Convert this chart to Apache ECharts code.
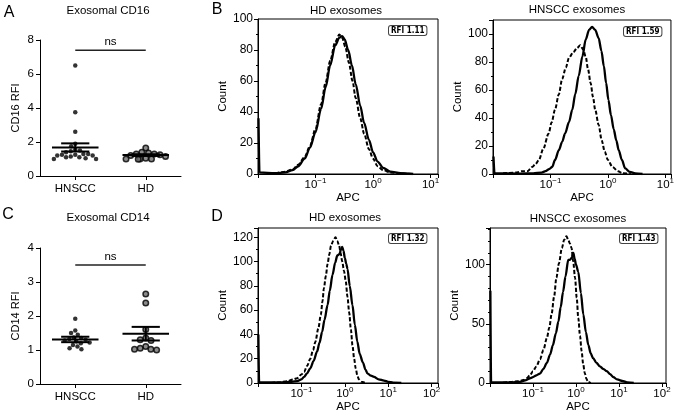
<!DOCTYPE html>
<html><head><meta charset="utf-8">
<script src="https://cdn.jsdelivr.net/npm/echarts@6/dist/echarts.min.js"></script>
<style>html,body{margin:0;padding:0;background:#fff}#c{width:677px;height:418px}</style>
</head><body><div id="c"></div>
<script>
// ---------- data ----------
const groupCategories = ['HNSCC', 'HD'];

// Panel A: Exosomal CD16 RFI
const cd16HNSCC = [6.5, 3.75, 2.6, 1.9, 1.75, 1.55, 1.5, 1.45, 1.4, 1.3, 1.3, 1.25, 1.25, 1.2, 1.2, 1.15, 1.1, 1.1, 1.05, 1.0, 1.0];
const cd16HD = [1.65, 1.4, 1.35, 1.3, 1.3, 1.25, 1.2, 1.15, 1.05, 1.0, 1.0, 1.0, 0.98];
const cd16Mean = [1.68, 1.23];
const cd16Sem = [0.24, 0.05];
const cd16NsLevel = [7.4];

// Panel C: Exosomal CD14 RFI
const cd14HNSCC = [1.92, 1.57, 1.5, 1.45, 1.37, 1.35, 1.32, 1.3, 1.28, 1.25, 1.22, 1.2, 1.15, 1.1, 1.05, 1.02];
const cd14HD = [2.65, 2.38, 1.6, 1.35, 1.3, 1.28, 1.1, 1.05, 1.02, 1.0, 1.02];
const cd14Mean = [1.31, 1.48];
const cd14Sem = [0.08, 0.2];
const cd14NsLevel = [3.5];

// Panel B: CD16 histograms, [APC, Count]
const bHdSolid = [[0.0102, 36], [0.0106, 1], [0.02, 0.5], [0.03, 1], [0.04, 2.5], [0.05, 5], [0.065, 10], [0.08, 17], [0.1, 27], [0.125, 42], [0.15, 56], [0.18, 70], [0.22, 83], [0.26, 88], [0.29, 89], [0.32, 87], [0.37, 80], [0.43, 70], [0.5, 58], [0.6, 44], [0.7, 33], [0.85, 22], [1.0, 14], [1.2, 8], [1.5, 4], [2.0, 1.5], [3, 0.5], [5, 0]];
const bHdDashed = [[0.02, 0.5], [0.03, 1.5], [0.04, 3], [0.05, 6], [0.065, 11], [0.08, 18], [0.1, 29], [0.125, 45], [0.15, 59], [0.18, 73], [0.22, 85], [0.26, 90], [0.29, 88], [0.33, 82], [0.38, 72], [0.44, 60], [0.5, 49], [0.6, 36], [0.7, 26], [0.85, 16], [1.0, 10], [1.2, 5], [1.5, 2.5], [2.0, 1], [3, 0.3], [5, 0]];
const bHnsccSolid = [[0.0102, 12.5], [0.0106, 0.5], [0.03, 0.3], [0.05, 0.5], [0.07, 1], [0.082, 2], [0.095, 3.5], [0.107, 5], [0.12, 10], [0.14, 17], [0.16, 23], [0.18, 29], [0.21, 37], [0.24, 46], [0.27, 57], [0.31, 70], [0.36, 84], [0.41, 96], [0.47, 103], [0.53, 105], [0.6, 103], [0.69, 97], [0.77, 88], [0.85, 77], [0.93, 65], [1.02, 53], [1.13, 42], [1.26, 32], [1.4, 24], [1.54, 17], [1.75, 10], [2.0, 4], [2.4, 1.5], [3.0, 0.5], [4, 0]];
const bHnsccDashed = [[0.015, 0.5], [0.025, 1], [0.032, 2], [0.04, 2], [0.048, 5], [0.055, 7], [0.063, 10], [0.075, 18], [0.093, 29], [0.105, 37], [0.12, 46], [0.14, 57], [0.16, 68], [0.185, 76], [0.21, 83], [0.25, 87], [0.29, 90], [0.33, 92], [0.37, 89], [0.41, 84], [0.45, 75], [0.5, 65], [0.55, 55], [0.6, 46], [0.69, 35], [0.78, 24], [0.88, 16], [1.0, 10], [1.2, 5], [1.5, 2], [1.8, 0.5], [2.5, 0]];

// Panel D: CD14 histograms, [APC, Count]
const dHdSolid = [[0.0102, 40], [0.0106, 0.5], [0.03, 0.5], [0.06, 1], [0.08, 1.5], [0.1, 3], [0.115, 5], [0.135, 8], [0.16, 12], [0.19, 18], [0.23, 26], [0.26, 33], [0.3, 42], [0.34, 52], [0.4, 64], [0.45, 76], [0.52, 89], [0.6, 99], [0.67, 105], [0.75, 106], [0.82, 110], [0.87, 112], [0.93, 109], [1.0, 103], [1.08, 98], [1.15, 94], [1.3, 80], [1.5, 64], [1.7, 48], [1.94, 34], [2.2, 24], [2.6, 17], [3.0, 11], [3.3, 8], [4.0, 6], [4.7, 5], [6, 3], [8, 2], [10, 1], [13, 0.3], [20, 0]];
const dHdDashed = [[0.02, 0], [0.03, 0.5], [0.048, 1.5], [0.065, 3], [0.08, 4], [0.1, 7], [0.115, 9], [0.135, 14], [0.16, 20], [0.185, 27], [0.21, 34], [0.245, 45], [0.28, 56], [0.305, 67], [0.33, 78], [0.365, 88], [0.4, 98], [0.44, 106], [0.48, 113], [0.54, 117], [0.61, 120], [0.67, 117], [0.74, 113], [0.8, 107], [0.87, 100], [0.96, 92], [1.05, 84], [1.15, 71], [1.26, 58], [1.38, 44], [1.5, 31], [1.64, 20], [1.78, 12], [1.95, 6], [2.1, 3], [2.4, 1], [3, 0]];
const dHnsccSolid = [[0.0102, 78], [0.0106, 0.5], [0.03, 0.5], [0.05, 1], [0.07, 2.5], [0.085, 4], [0.1, 5], [0.12, 6.5], [0.145, 8], [0.175, 12], [0.21, 17], [0.25, 24], [0.29, 32], [0.34, 42], [0.39, 52], [0.44, 64], [0.5, 77], [0.57, 90], [0.66, 104], [0.72, 104], [0.8, 106], [0.87, 110], [0.93, 105], [1.0, 100], [1.13, 94], [1.3, 76], [1.48, 58], [1.7, 43], [1.94, 32], [2.2, 25], [2.5, 21], [3.0, 17], [3.6, 14], [4.3, 12], [5.2, 10], [6.2, 7.5], [7.4, 5], [9, 3], [12.6, 1.5], [16, 0.5], [22, 0]];
const dHnsccDashed = [[0.02, 0.3], [0.03, 0.8], [0.045, 1.5], [0.06, 2.5], [0.071, 4], [0.085, 6.5], [0.1, 10], [0.12, 14], [0.145, 20], [0.175, 28], [0.21, 38], [0.24, 47], [0.27, 58], [0.31, 73], [0.35, 89], [0.4, 101], [0.47, 114], [0.53, 121], [0.6, 124], [0.66, 121], [0.72, 118], [0.79, 114], [0.86, 103], [0.95, 89], [1.04, 72], [1.13, 55], [1.24, 40], [1.35, 27], [1.47, 16], [1.6, 8.5], [1.75, 3.5], [1.9, 1], [2.2, 0]];

const panelTitles = ['Exosomal CD16', 'Exosomal CD14', 'HD exosomes', 'HNSCC exosomes', 'HD exosomes', 'HNSCC exosomes'];
const panelLetters = ['A', 'B', 'C', 'D'];
const rfiLabels = ['RFI 1.11', 'RFI 1.59', 'RFI 1.32', 'RFI 1.43'];

// ---------- styling / helpers ----------
const FONT = '"Liberation Sans", Arial, Helvetica, sans-serif';
const INK = '#000';
const axisLineStyle = { show: true, onZero: false, lineStyle: { color: '#000', width: 1 } };

function logLabel(v) {
  const e = Math.log10(v);
  const r = Math.round(e);
  if (Math.abs(e - r) > 1e-6 || r < -1) return '';
  return '{b|10}{s|' + (r < 0 ? '\u2212' + (-r) : r) + '}';
}

function catX(gi) {
  return {
    type: 'category', gridIndex: gi, data: groupCategories, boundaryGap: true,
    axisLine: axisLineStyle,
    axisTick: { show: true, alignWithLabel: true, length: 4, lineStyle: { color: '#000' } },
    axisLabel: { fontSize: 11.5, margin: 7, color: INK, fontFamily: FONT },
    splitLine: { show: false },
    jitter: 46, jitterOverlap: false, jitterMargin: 0.3
  };
}
function rfiY(gi, max, interval, name) {
  return {
    type: 'value', gridIndex: gi, min: 0, max: max, interval: interval,
    name: name, nameLocation: 'middle', nameGap: 19,
    nameTextStyle: { fontSize: 11, color: INK, fontFamily: FONT },
    axisLine: axisLineStyle,
    axisTick: { show: true, length: 4, lineStyle: { color: '#000' } },
    axisLabel: { fontSize: 11.5, margin: 6, color: INK, fontFamily: FONT },
    splitLine: { show: false }
  };
}
function logX(gi, max, nameGap) {
  return {
    type: 'log', logBase: 10, gridIndex: gi, min: 0.01, max: max,
    name: 'APC', nameLocation: 'middle', nameGap: nameGap,
    nameTextStyle: { fontSize: 11.5, color: INK, fontFamily: FONT },
    axisLine: axisLineStyle,
    axisTick: { show: true, length: 4, lineStyle: { color: '#000' } },
    splitLine: { show: false },
    axisLabel: {
      margin: 3, color: INK, formatter: logLabel,
      rich: {
        b: { fontSize: 11.5, lineHeight: 14, verticalAlign: 'bottom', fontFamily: FONT, color: INK },
        s: { fontSize: 8, lineHeight: 14, verticalAlign: 'top', fontFamily: FONT, color: INK }
      }
    }
  };
}
function countY(gi, max, interval, minorSplit, nameGap) {
  return {
    type: 'value', gridIndex: gi, min: 0, max: max, interval: interval,
    name: 'Count', nameLocation: 'middle', nameGap: nameGap,
    nameTextStyle: { fontSize: 11.5, color: INK, fontFamily: FONT },
    axisLine: axisLineStyle,
    axisTick: { show: true, length: 4, lineStyle: { color: '#000' } },
    minorTick: { show: true, splitNumber: minorSplit, length: 2, lineStyle: { color: '#000' } },
    splitLine: { show: false }, minorSplitLine: { show: false },
    axisLabel: { fontSize: 12, margin: 5, color: INK, fontFamily: FONT,
      formatter: v => (Math.abs(v / interval - Math.round(v / interval)) < 1e-9 ? String(v) : '') }
  };
}
function dots(ai, values, cat, filled) {
  return {
    type: 'scatter', xAxisIndex: ai, yAxisIndex: ai,
    data: values.map(v => [cat, v]),
    symbol: 'circle', symbolSize: filled ? 4.5 : 5.5,
    itemStyle: filled ? { color: '#000' } : { color: '#6e6e6e', borderColor: '#000', borderWidth: 1.5 },
    z: 3, silent: true
  };
}
function meanSem(ai, mean, sem) {
  return {
    type: 'custom', xAxisIndex: ai, yAxisIndex: ai, z: 5, silent: true,
    encode: { x: 0, y: 1 },
    data: mean.map((m, i) => [i, m, sem[i]]),
    renderItem: (params, api) => {
      const cat = api.value(0), m = api.value(1), s = api.value(2);
      const c = api.coord([cat, m]), t = api.coord([cat, m + s]), b = api.coord([cat, m - s]);
      const bw = api.size([1, 0])[0];
      const mh = bw * 0.33, ch = bw * 0.2;
      const st = { stroke: '#000', lineWidth: 2 };
      return { type: 'group', children: [
        { type: 'line', shape: { x1: c[0] - mh, y1: c[1], x2: c[0] + mh, y2: c[1] }, style: st },
        { type: 'line', shape: { x1: c[0] - ch, y1: t[1], x2: c[0] + ch, y2: t[1] }, style: st },
        { type: 'line', shape: { x1: c[0] - ch, y1: b[1], x2: c[0] + ch, y2: b[1] }, style: st },
        { type: 'line', shape: { x1: c[0], y1: t[1], x2: c[0], y2: b[1] }, style: st }
      ] };
    }
  };
}
function nsBar(ai, level) {
  return {
    type: 'custom', xAxisIndex: ai, yAxisIndex: ai, z: 5, silent: true,
    encode: { x: 0, y: 1 },
    data: level.map(l => [0, l]),
    renderItem: (params, api) => {
      const l = api.value(1);
      const a = api.coord([0, l]), b = api.coord([1, l]);
      return { type: 'group', children: [
        { type: 'line', shape: { x1: a[0], y1: a[1], x2: b[0], y2: b[1] }, style: { stroke: '#222', lineWidth: 1.5 } },
        { type: 'text', x: (a[0] + b[0]) / 2, y: a[1] - 2,
          style: { text: 'ns', fontSize: 11.5, fontFamily: FONT, fill: INK, align: 'center', verticalAlign: 'bottom' } }
      ] };
    }
  };
}
function curve(ai, data, dashed) {
  return {
    type: 'line', xAxisIndex: ai, yAxisIndex: ai, data: data,
    showSymbol: false, symbol: 'none', smooth: 0.3, smoothMonotone: 'x', silent: true,
    lineStyle: { color: '#000', width: dashed ? 2 : 2.3, type: dashed ? [4, 2] : 'solid' },
    z: dashed ? 2 : 3
  };
}
function txt(x, y, text, size, extra) {
  return Object.assign({ type: 'text', x: x, y: y, silent: true,
    style: { text: text, fontSize: size, fontFamily: FONT, fill: INK, align: 'center', verticalAlign: 'middle' } }, extra || {});
}
function rfiBox(x, y, text) {
  return { type: 'text', x: x, y: y, silent: true, z: 10,
    style: { text: text, fontSize: 8, fontWeight: 'bold', fontFamily: '"DejaVu Sans Condensed", "DejaVu Sans", sans-serif',
      fill: INK, backgroundColor: '#fff', borderColor: '#444', borderWidth: 1, borderRadius: 2,
      padding: [1, 2, 0, 2], lineHeight: 8, align: 'left', verticalAlign: 'top' } };
}

const frame = { show: true, borderColor: '#000', borderWidth: 1, backgroundColor: 'transparent' };

const option = {
  animation: false,
  backgroundColor: '#fff',
  textStyle: { fontFamily: FONT },
  grid: [
    { left: 40, top: 40, width: 141, height: 136 },
    { left: 40, top: 248, width: 141, height: 136 },
    Object.assign({ left: 258, top: 19, width: 180, height: 155 }, frame),
    Object.assign({ left: 493, top: 20, width: 178, height: 154 }, frame),
    Object.assign({ left: 258, top: 228, width: 180, height: 155 }, frame),
    Object.assign({ left: 490, top: 228, width: 176, height: 155 }, frame)
  ],
  xAxis: [
    catX(0), catX(1),
    logX(2, 13.5, 11), logX(3, 12.5, 11), logX(4, 140, 13), logX(5, 124, 13)
  ],
  yAxis: [
    rfiY(0, 8, 2, 'CD16 RFI'), rfiY(1, 4, 1, 'CD14 RFI'),
    countY(2, 100, 20, 2, 25), countY(3, 110, 20, 2, 24),
    countY(4, 127.6, 20, 2, 25), countY(5, 131, 50, 5, 23)
  ],
  series: [
    dots(0, cd16HNSCC, 'HNSCC', true), dots(0, cd16HD, 'HD', false),
    meanSem(0, cd16Mean, cd16Sem), nsBar(0, cd16NsLevel),
    dots(1, cd14HNSCC, 'HNSCC', true), dots(1, cd14HD, 'HD', false),
    meanSem(1, cd14Mean, cd14Sem), nsBar(1, cd14NsLevel),
    curve(2, bHdDashed, true), curve(2, bHdSolid, false),
    curve(3, bHnsccDashed, true), curve(3, bHnsccSolid, false),
    curve(4, dHdDashed, true), curve(4, dHdSolid, false),
    curve(5, dHnsccDashed, true), curve(5, dHnsccSolid, false)
  ],
  graphic: [
    txt(9, 13, panelLetters[0], 16), txt(217, 10, panelLetters[1], 16),
    txt(8, 215, panelLetters[2], 16), txt(217, 217, panelLetters[3], 16),
    txt(108, 11, panelTitles[0], 11.5), txt(108, 217.5, panelTitles[1], 11.5),
    txt(346, 10.5, panelTitles[2], 11.5), txt(577, 10, panelTitles[3], 11.5),
    txt(345, 218, panelTitles[4], 11.5), txt(578, 219, panelTitles[5], 11.5),
    rfiBox(389, 26, rfiLabels[0]), rfiBox(624, 27, rfiLabels[1]),
    rfiBox(389, 234, rfiLabels[2]), rfiBox(620, 234, rfiLabels[3])
  ]
};

const chart = echarts.init(document.getElementById('c'), null, { renderer: 'canvas', width: 677, height: 418 });
chart.setOption(option);
</script>
</body></html>
